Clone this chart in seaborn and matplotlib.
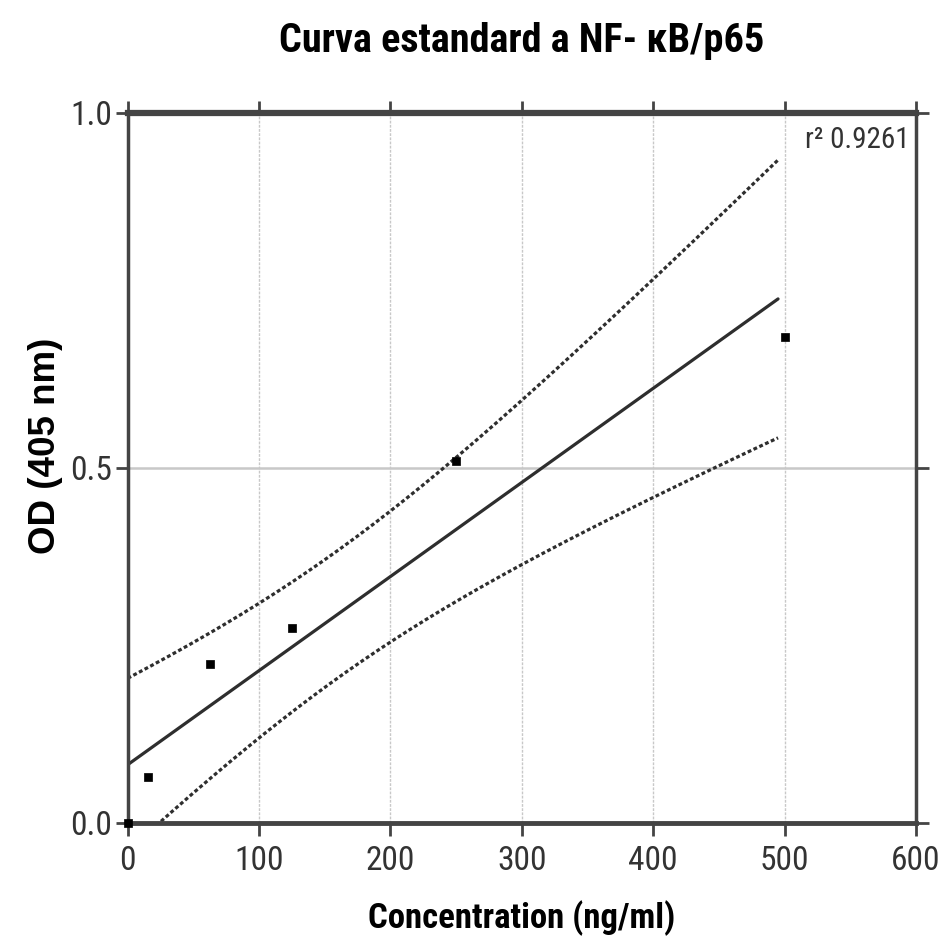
import numpy as np
import pandas as pd
import matplotlib
matplotlib.use("Agg")
import matplotlib.pyplot as plt
import seaborn as sns

# Standard curve readings
concentration = [0, 15.625, 62.5, 125, 250, 500]
od_405 = [0.0, 0.064, 0.223, 0.274, 0.509, 0.684]
x_ticks = [0, 100, 200, 300, 400, 500, 600]
y_ticks = [0.0, 0.5, 1.0]
r2_label = "r² 0.9261"
fit_x_max = 495

df = pd.DataFrame({"Concentration": concentration, "OD": od_405})

# Linear fit with 95% confidence band of the regression line
x = df["Concentration"].values
y = df["OD"].values
n = len(x)
slope, intercept = np.polyfit(x, y, 1)
resid = y - (slope * x + intercept)
s = np.sqrt(np.sum(resid ** 2) / (n - 2))
t_crit = 2.776  # t(0.975, df=4)
x_fit = np.linspace(0, fit_x_max, 200)
y_fit = slope * x_fit + intercept
se = s * np.sqrt(1 / n + (x_fit - x.mean()) ** 2 / np.sum((x - x.mean()) ** 2))
fit = pd.DataFrame({"x": x_fit, "y": y_fit,
                    "upper": y_fit + t_crit * se, "lower": y_fit - t_crit * se})

sns.set_style("ticks")
plt.rcParams['font.family'] = ['Roboto Condensed', 'DejaVu Sans']

fig = plt.figure(figsize=(9.39, 9.40), dpi=100)
ax = fig.add_axes([0.136, 0.1248, 0.8395, 0.755])

line_col = '#2e2e2e'
sns.lineplot(data=fit, x="x", y="y", ax=ax, color=line_col, lw=2.3)
sns.lineplot(data=fit, x="x", y="upper", ax=ax, color=line_col, lw=2.3,
             linestyle=(0, (1.2, 0.8)))
sns.lineplot(data=fit, x="x", y="lower", ax=ax, color=line_col, lw=2.3,
             linestyle=(0, (1.2, 0.8)))
sns.scatterplot(data=df, x="Concentration", y="OD", ax=ax, marker='s',
                s=40, color='black', edgecolor='black', clip_on=False, zorder=5)

ax.set_xlim(0, 600)
ax.set_ylim(0, 1.0)
ax.set_xticks(x_ticks)
ax.set_yticks(y_ticks)
ax.set_yticklabels([f"{v:.1f}" for v in y_ticks])
ax.set_xlabel("")
ax.set_ylabel("")

# grid lines
ax.grid(axis='x', color='#c8c8c8', lw=1.0, linestyle=(0, (2, 1)))
ax.grid(axis='y', color='#c8c8c8', lw=1.8)
ax.set_axisbelow(True)

spine_col = '#444444'
for side, w in [('left', 2.5), ('right', 2.5), ('bottom', 3.5), ('top', 4.5)]:
    ax.spines[side].set_visible(True)
    ax.spines[side].set_color(spine_col)
    ax.spines[side].set_linewidth(w)

ax.tick_params(axis='both', which='major', direction='out', length=9, width=2,
               color=spine_col, labelsize=24, labelcolor='#333333', pad=2,
               top=True, right=True, labeltop=False, labelright=False)
ax.tick_params(axis='x', pad=7)

ax.text(0.992, 0.982, r2_label, transform=ax.transAxes, ha='right', va='top',
        fontsize=21, color='#333333')

fig.text(0.5558, 1 - 41 / 940, "Curva estandard a NF- κB/p65", ha='center',
         va='center', fontsize=29, fontweight='bold', color='black')
fig.text(0.5558, 1 - 918 / 940, "Concentration (ng/ml)", ha='center',
         va='center', fontsize=25, fontweight='bold', color='black')
fig.text(0.048, 1 - 446 / 940, "OD (405 nm)", ha='center', va='center',
         rotation=90, fontsize=26.5, fontweight='bold', color='black',
         family=['Liberation Sans', 'DejaVu Sans'])

fig.savefig("out.png", dpi=100)
